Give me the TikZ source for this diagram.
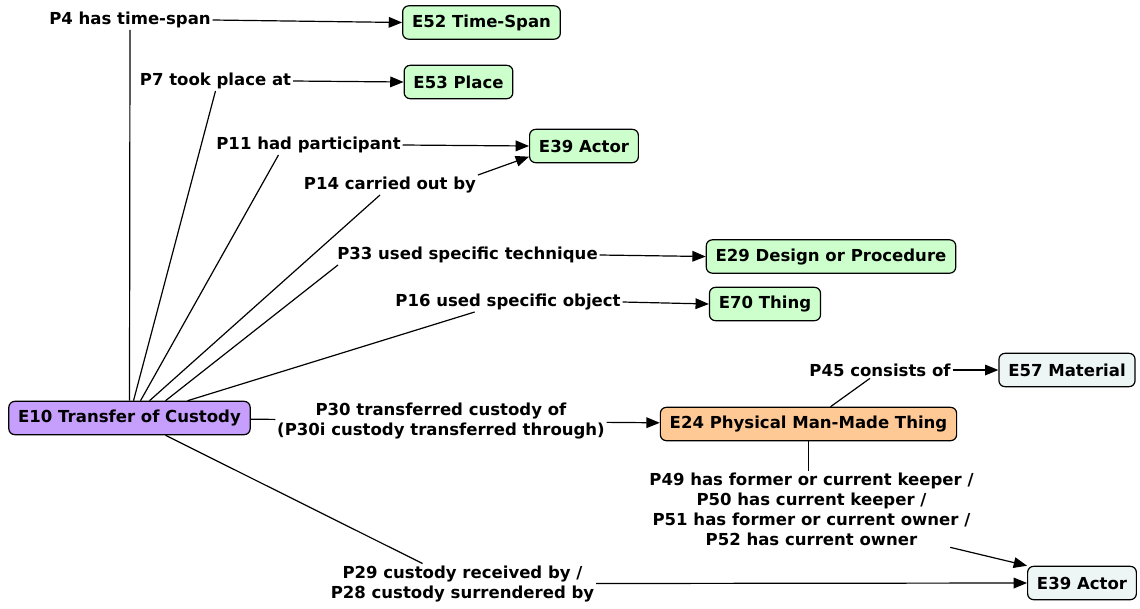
\documentclass[tikz,border=0pt]{standalone}
\usepackage{fontspec}
\setmainfont{DejaVu Sans}
\usetikzlibrary{arrows.meta}
\tikzset{every picture/.style={line width=0.9pt}}
\definecolor{clsgreen}{RGB}{204,255,204}
\definecolor{clspurple}{RGB}{198,158,252}
\definecolor{clsorange}{RGB}{255,201,150}
\definecolor{clsgrey}{RGB}{238,245,245}
\tikzset{
  cls/.style={draw=black, rounded corners=4.5pt, inner xsep=7pt, minimum height=25pt,
    font=\fontsize{12.4}{15}\selectfont\bfseries},
  prop/.style={inner sep=1pt, align=center, font=\fontsize{12.4}{15}\selectfont\bfseries},
  link/.style={-{Triangle[length=10pt,width=8pt]}},
}

\begin{document}
\begin{tikzpicture}[x=0.75pt,y=0.75pt,yscale=-1,xscale=1]
\useasboundingbox (0,0) rectangle (1140,608);

%Shape: Rounded Rect [id:e10]
\node [cls, fill=clspurple] (e10) at (129.5,418) {E10 Transfer of Custody};
%Shape: Rounded Rect [id:e52]
\node [cls, fill=clsgreen] (e52) at (481.5,22.5) {E52 Time-Span};
%Shape: Rounded Rect [id:e53]
\node [cls, fill=clsgreen] (e53) at (458.5,82) {E53 Place};
%Shape: Rounded Rect [id:e39a]
\node [cls, fill=clsgreen] (e39a) at (584,146) {E39 Actor};
%Shape: Rounded Rect [id:e29]
\node [cls, fill=clsgreen] (e29) at (831,256.5) {E29 Design or Procedure};
%Shape: Rounded Rect [id:e70]
\node [cls, fill=clsgreen] (e70) at (765,304) {E70 Thing};
%Shape: Rounded Rect [id:e57]
\node [cls, fill=clsgrey] (e57) at (1067,370) {E57 Material};
%Shape: Rounded Rect [id:e24]
\node [cls, fill=clsorange] (e24) at (808.5,424) {E24 Physical Man-Made Thing};
%Shape: Rounded Rect [id:e39b]
\node [cls, fill=clsgrey] (e39b) at (1082,583) {E39 Actor};

% Text Node
\node [prop] (p4) at (130,20) {P4 has time-span};
% Text Node
\node [prop] (p7) at (215.5,81) {P7 took place at};
% Text Node
\node [prop] (p11) at (308.5,145) {P11 had participant};
% Text Node
\node [prop] (p14) at (390,185) {P14 carried out by};
% Text Node
\node [prop] (p33) at (467.5,255) {P33 used specific technique};
% Text Node
\node [prop] (p16) at (508,302) {P16 used specific object};
% Text Node
\node [prop] (p30) at (441,421) {P30 transferred custody of\\(P30i custody transferred through)};
% Text Node
\node [prop] (p45) at (880,370) {P45 consists of};
% Text Node
\node [prop] (p49) at (811.5,509) {P49 has former or current keeper /\\P50 has current keeper /\\P51 has former or current owner /\\P52 has current owner};
% Text Node
\node [prop] (p29) at (462.5,583.5) {P29 custody received by /\\P28 custody surrendered by};

%Straight Lines [id:e10 to properties]
\draw (e10.north) -- (p4.south);
\draw ([xshift=3pt]e10.north) -- (p7.south);
\draw ([xshift=8.25pt]e10.north) -- ([xshift=-22.5pt]p11.south);
\draw ([xshift=15pt]e10.north) -- ([xshift=-7.5pt]p14.south);
\draw ([xshift=27pt]e10.north) -- ([xshift=2pt]p33.south west);
\draw ([xshift=43.5pt]e10.north) -- ([xshift=-25pt]p16.south);
\draw (e10) -- (p30);
\draw ([xshift=27pt]e10.south) -- ([xshift=-30pt]p29.north);
\draw ([xshift=16.5pt]e24.north) -- ([xshift=-7.5pt]p45.south);
\draw (e24.south) -- (e24.south |- p49.north);

%Straight Lines [id:properties to ranges]
\draw [link] (p4.east) -- (e52.west);
\draw [link] (p7.east) -- (e53.west);
\draw [link] (p11.east) -- (e39a.west);
\draw [link] (p14.north east) -- ([yshift=8pt]e39a.west);
\draw [link] (p33.east) -- (e29.west);
\draw [link] (p16.east) -- (e70.west);
\draw [link] (p30) -- (e24);
\draw [link] (p45.east) -- (e57.west);
\draw [link] ([xshift=-19pt]p49.south east) -- (e39b.north west);
\draw [link] (p29.east) -- (e39b.west);

\end{tikzpicture}
\end{document}
